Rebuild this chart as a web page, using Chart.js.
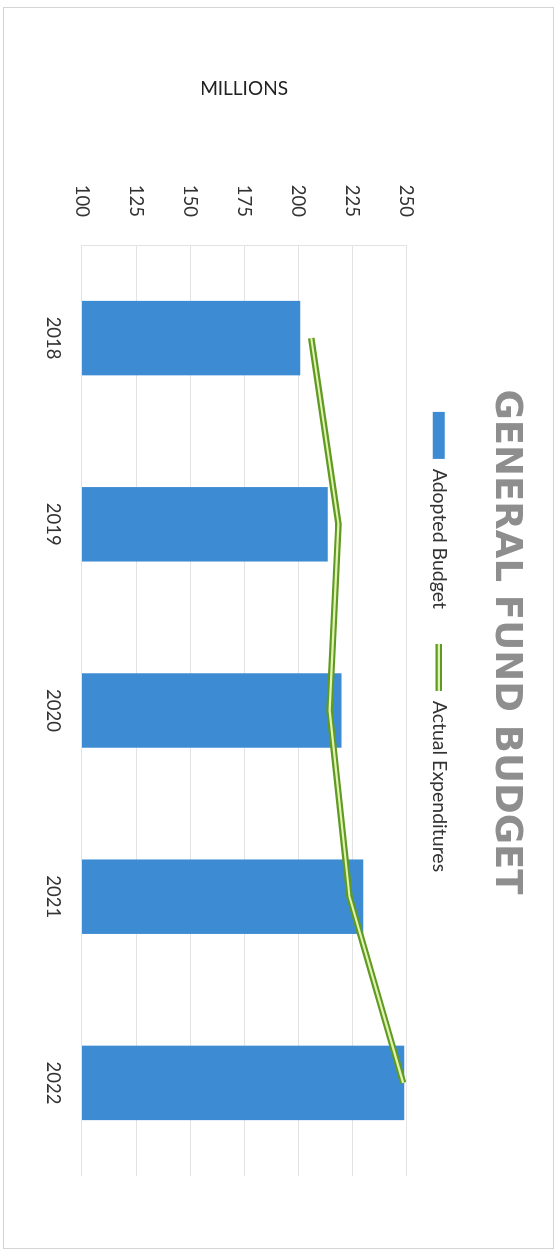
<!DOCTYPE html>
<html lang="en">
<head>
    <meta charset="UTF-8">
    <title>General Fund Budget</title>
    <script src="https://cdn.jsdelivr.net/npm/chart.js"></script>
    <style>
        body {
            margin: 0;
            width: 556px;
            height: 1256px;
            overflow: hidden;
            position: relative;
            background: #fff;
        }
        /* thin border of the scanned page */
        .frame {
            position: absolute;
            left: 3px;
            top: 7px;
            width: 549px;
            height: 1240px;
            border: 1px solid #d4d4d4;
        }
        /* chart is drawn landscape and turned a quarter clockwise, like the scan */
        .turn {
            position: absolute;
            left: 0;
            top: 0;
            width: 1256px;
            height: 556px;
            transform-origin: 0 0;
            transform: translate(556px, 0) rotate(90deg);
        }
    </style>
</head>
<body>
    <div class="frame"></div>
    <div class="turn">
        <canvas id="budgetChart" width="1256" height="556"></canvas>
    </div>
    <script>
        // values (millions)
        const years = ['2018', '2019', '2020', '2021', '2022'];
        const adoptedBudget = [201, 213.7, 220.1, 230.2, 249.1];
        const actualExpenditures = [206.1, 218.7, 214.6, 223.8, 248.6];
        const valueTicks = [100, 125, 150, 175, 200, 225, 250];

        const barBlue = '#3d8cd3';
        const lineGreen = '#5f9a22';
        const lineInner = '#e2f2b0';
        const textFont = 'Lato';

        // Excel style double line: light stroke drawn down the middle of the green one
        const doubleLine = {
            id: 'doubleLine',
            afterDatasetDraw(chart, args) {
                if (chart.data.datasets[args.index].type !== 'line') return;
                const ctx = chart.ctx;
                const pts = args.meta.data;
                ctx.save();
                ctx.strokeStyle = lineInner;
                ctx.lineWidth = 2.2;
                ctx.lineJoin = 'miter';
                ctx.beginPath();
                pts.forEach((p, i) => i ? ctx.lineTo(p.x, p.y) : ctx.moveTo(p.x, p.y));
                ctx.stroke();
                ctx.restore();
            },
            afterDraw(chart) {
                const legend = chart.legend;
                const i = legend.legendItems.findIndex(it => it.datasetIndex === 1);
                const box = legend.legendHitBoxes[i];
                if (!box) return;
                const ctx = chart.ctx;
                const y = box.top + box.height / 2;
                ctx.save();
                ctx.strokeStyle = lineInner;
                ctx.lineWidth = 2.2;
                ctx.beginPath();
                ctx.moveTo(box.left, y);
                ctx.lineTo(box.left + 47, y);
                ctx.stroke();
                ctx.restore();
            }
        };

        const ctx = document.getElementById('budgetChart').getContext('2d');
        const budgetChart = new Chart(ctx, {
            data: {
                labels: years,
                datasets: [{
                    type: 'bar',
                    label: 'Adopted Budget',
                    data: adoptedBudget,
                    backgroundColor: barBlue,
                    barPercentage: 0.8,
                    categoryPercentage: 0.5,
                    order: 1
                }, {
                    type: 'line',
                    label: 'Actual Expenditures',
                    data: actualExpenditures,
                    borderColor: lineGreen,
                    backgroundColor: lineGreen,
                    borderWidth: 6.5,
                    pointRadius: 0,
                    tension: 0,
                    order: 0
                }]
            },
            options: {
                responsive: false,
                devicePixelRatio: 1,
                animation: false,
                layout: { padding: { left: 28, right: 0, top: 0, bottom: 0 } },
                plugins: {
                    title: {
                        display: true,
                        text: 'GENERAL FUND BUDGET',
                        color: '#8e8e8e',
                        font: { family: 'DejaVu Sans', size: 37, weight: 'bold' },
                        padding: { top: 28, bottom: 0 }
                    },
                    legend: {
                        display: true,
                        position: 'top',
                        labels: {
                            color: '#333',
                            font: { family: textFont, size: 19.5 },
                            usePointStyle: true,
                            pointStyleWidth: 47,
                            boxHeight: 12,
                            padding: 35,
                            generateLabels(chart) {
                                const items = Chart.defaults.plugins.legend.labels.generateLabels(chart);
                                items.forEach(it => {
                                    if (it.datasetIndex === 0) {
                                        it.pointStyle = 'rect';
                                        it.lineWidth = 0;
                                    } else {
                                        it.pointStyle = 'line';
                                        it.lineWidth = 6.5;
                                        it.strokeStyle = lineGreen;
                                    }
                                });
                                return items;
                            },
                            sort: (a, b) => a.datasetIndex - b.datasetIndex
                        }
                    },
                    tooltip: { enabled: false }
                },
                scales: {
                    x: {
                        grid: { display: false, drawTicks: false },
                        border: { display: false },
                        ticks: { color: '#333', font: { family: textFont, size: 18.5 }, padding: 18 },
                        afterFit(s) { s.height = 82; }
                    },
                    // empty strip between legend and plot
                    xGap: {
                        type: 'category',
                        position: 'top',
                        grid: { display: false, drawTicks: false },
                        border: { display: false },
                        ticks: { display: false },
                        afterFit(s) { s.height = 13; }
                    },
                    y: {
                        min: 100,
                        max: 250,
                        afterBuildTicks(s) { s.ticks = valueTicks.map(v => ({ value: v })); },
                        grid: { color: '#e3e3e3', drawTicks: false },
                        border: { color: '#e3e3e3' },
                        ticks: { color: '#333', font: { family: textFont, size: 18.5 }, padding: 28 },
                        title: {
                            display: true,
                            text: 'MILLIONS',
                            color: '#222',
                            font: { family: textFont, size: 19 },
                            padding: { top: 49, bottom: 0 }
                        },
                        afterFit(s) { s.width = 217; }
                    },
                    // empty strip on the right of the plot
                    yGap: {
                        position: 'right',
                        grid: { display: false, drawTicks: false },
                        border: { display: false },
                        ticks: { display: false },
                        afterFit(s) { s.width = 80; }
                    }
                }
            },
            plugins: [doubleLine]
        });
    </script>
</body>
</html>
